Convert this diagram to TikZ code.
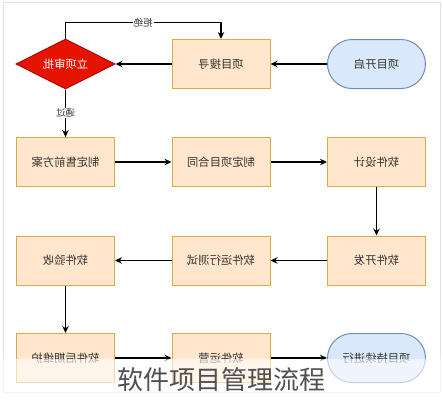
\documentclass[tikz,border=0pt]{standalone}
\usepackage{fontspec}
\usepackage{graphicx}
\setmainfont{Noto Sans CJK SC}
\usetikzlibrary{shapes.geometric,arrows.meta}
\definecolor{boxfill}{HTML}{FFE6CC}
\definecolor{boxline}{HTML}{D6AE45}
\definecolor{termfill}{HTML}{DAE8FC}
\definecolor{termline}{HTML}{6C8EBF}
\definecolor{decfill}{HTML}{E51400}
\definecolor{decline}{HTML}{B20000}
\definecolor{txt}{HTML}{333333}
\definecolor{capgray}{HTML}{505050}
\definecolor{framegray}{HTML}{E2E2E2}
\newcommand\mir[1]{\reflectbox{#1}}
\begin{document}
\begin{tikzpicture}[x=1pt,y=-1pt,
  stepbox/.style={draw=boxline, fill=boxfill, line width=1pt, minimum width=98pt, minimum height=49pt, inner sep=0pt, font=\fontsize{11.3}{13}\selectfont, text=txt},
  termbox/.style={draw=termline, fill=termfill, line width=1pt, rounded corners=24.5pt, minimum width=98pt, minimum height=49pt, inner sep=0pt, font=\fontsize{11.3}{13}\selectfont, text=txt},
  decbox/.style={diamond, aspect=2, draw=decline, fill=decfill, line width=1pt, minimum width=99pt, minimum height=50pt, inner sep=0pt, font=\fontsize{11.3}{13}\selectfont, text=white},
  flow/.style={-{Stealth[length=7pt,width=6.5pt]}, line width=1.2pt, black},
  edgelabel/.style={fill=white, inner sep=1pt, font=\fontsize{9.5}{11}\selectfont, text=txt}]
\useasboundingbox (0,0) rectangle (443,400);
\fill[white] (0,0) rectangle (443,400);
\draw[framegray, line width=0.8pt] (3,2) rectangle (440,392);

% row 1
\node[termbox] (start) at (376.5,64) {\mir{项目开启}};
\node[stepbox] (search) at (221,64) {\mir{项目搜寻}};
\node[decbox] (approve) at (65.5,64) {\mir{立项审批}};
% row 2
\node[stepbox] (presale) at (65.5,162) {\mir{制定售前方案}};
\node[stepbox] (contract) at (221,162) {\mir{制定项目合同}};
\node[stepbox] (design) at (376.5,162) {\mir{软件设计}};
% row 3
\node[stepbox] (dev) at (376.5,260.5) {\mir{软件开发}};
\node[stepbox] (test) at (221,260.5) {\mir{软件运行测试}};
\node[stepbox] (accept) at (65.5,260.5) {\mir{软件验收}};
% row 4
\node[stepbox] (maint) at (65.5,358) {\mir{软件后期维护}};
\node[stepbox] (ops) at (221,358) {\mir{软件运营}};
\node[termbox] (cont) at (376.5,358) {\mir{项目持续进行}};

\draw[flow] (start) -- (search);
\draw[flow] (search) -- (approve);
\draw[flow] (approve.north) -- ++(0,-16) -| (search.north);
\node[edgelabel] (reject) at (143,23) {\mir{拒绝}};
\draw[flow] (approve.south) -- (presale.north);
\node[edgelabel] (pass) at (65.5,113) {\mir{通过}};
\draw[flow] (presale) -- (contract);
\draw[flow] (contract) -- (design);
\draw[flow] (design) -- (dev);
\draw[flow] (dev) -- (test);
\draw[flow] (test) -- (accept);
\draw[flow] (accept) -- (maint);
\draw[flow] (maint) -- (ops);
\draw[flow] (ops) -- (cont);

\fill[white, opacity=0.6] (0,359) rectangle (443,400);
\node[text=capgray, font=\fontsize{26}{30}\selectfont, inner sep=0pt] (caption) at (221.5,380) {软件项目管理流程};
\end{tikzpicture}
\end{document}
